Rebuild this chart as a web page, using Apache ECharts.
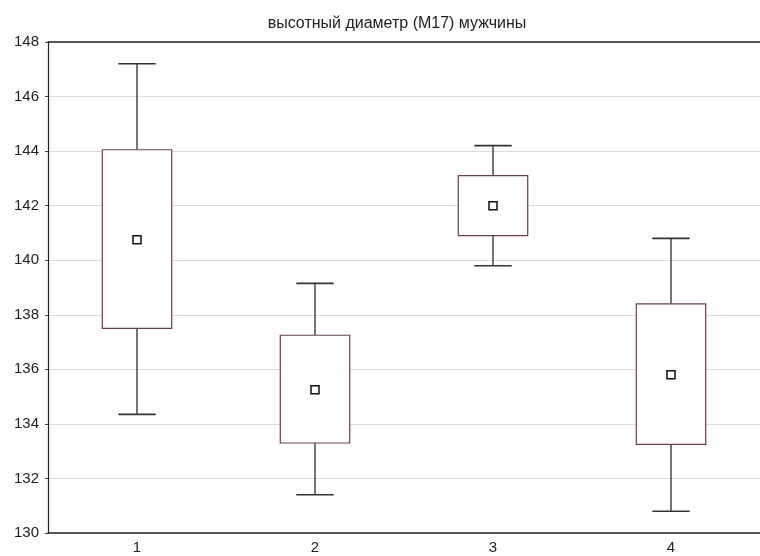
<!DOCTYPE html>
<html>
<head>
<meta charset="utf-8">
<style>
  html, body { margin: 0; padding: 0; background: #fff; }
  #chart { width: 760px; height: 556px; }
</style>
<script src="https://cdn.jsdelivr.net/npm/echarts@6/dist/echarts.min.js"></script>
</head>
<body>
<div id="chart"></div>
<script>
// Groups along the x axis
const categories = ['1', '2', '3', '4'];
// Whisker ends, box edges and centre marker for each group
const whiskerLow  = [134.35, 131.4, 139.8, 130.8];
const boxLow      = [137.5, 133.3, 140.9, 133.25];
const centre      = [140.75, 135.25, 142.0, 135.8];
const boxHigh     = [144.05, 137.25, 143.1, 138.4];
const whiskerHigh = [147.2, 139.15, 144.2, 140.8];

const rows = categories.map((c, i) => [i, whiskerLow[i], boxLow[i], centre[i], boxHigh[i], whiskerHigh[i]]);

const chart = echarts.init(document.getElementById('chart'), null, { renderer: 'canvas' });

function renderBox(params, api) {
  const idx = api.value(0);
  const pMin = api.coord([idx, api.value(1)]);
  const pQ1 = api.coord([idx, api.value(2)]);
  const pMid = api.coord([idx, api.value(3)]);
  const pQ3 = api.coord([idx, api.value(4)]);
  const pMax = api.coord([idx, api.value(5)]);
  const band = api.size([1, 0])[0];
  const boxW = band * 0.39;
  const capW = band * 0.21;
  const x = pMid[0];
  const whisker = { stroke: '#1a1a1a', lineWidth: 1.2 };
  const cap = { stroke: '#333', lineWidth: 1.6 };
  return {
    type: 'group',
    children: [
      { type: 'line', shape: { x1: x, y1: pMax[1], x2: x, y2: pQ3[1] }, style: whisker },
      { type: 'line', shape: { x1: x - capW / 2, y1: pMax[1], x2: x + capW / 2, y2: pMax[1] }, style: cap },
      { type: 'line', shape: { x1: x, y1: pQ1[1], x2: x, y2: pMin[1] }, style: whisker },
      { type: 'line', shape: { x1: x - capW / 2, y1: pMin[1], x2: x + capW / 2, y2: pMin[1] }, style: cap },
      { type: 'rect', shape: { x: x - boxW / 2, y: pQ3[1], width: boxW, height: pQ1[1] - pQ3[1] },
        style: { fill: '#fff', stroke: '#6b4040', lineWidth: 1.2 } },
      { type: 'rect', shape: { x: x - 4, y: pMid[1] - 4, width: 8, height: 8 },
        style: { fill: '#fff', stroke: '#111', lineWidth: 1.5 } }
    ]
  };
}

const font = 'Liberation Sans, Arial, sans-serif';

chart.setOption({
  animation: false,
  backgroundColor: '#fff',
  title: {
    text: 'высотный диаметр (M17) мужчины',
    left: 392, top: 11, textAlign: 'center',
    textStyle: { fontFamily: font, fontSize: 16, fontWeight: 'normal', color: '#222' }
  },
  grid: { left: 48, right: -5, top: 42, bottom: 23, containLabel: false },
  xAxis: [
    {
      type: 'category', data: categories, position: 'bottom', boundaryGap: true,
      axisLine: { lineStyle: { color: '#222', width: 1.5 } },
      axisTick: { alignWithLabel: true, inside: true, length: 4, lineStyle: { color: '#444' } },
      axisLabel: { fontFamily: font, fontSize: 15, color: '#222', margin: 7 },
      splitLine: { show: false }
    },
    {
      type: 'category', data: categories, position: 'top', boundaryGap: true,
      axisLine: { lineStyle: { color: '#222', width: 1.5 } },
      axisTick: { alignWithLabel: true, inside: true, length: 4, lineStyle: { color: '#444' } },
      axisLabel: { show: false },
      splitLine: { show: false }
    }
  ],
  yAxis: {
    type: 'value', min: 130, max: 148, interval: 2,
    axisLine: { show: true, lineStyle: { color: '#222', width: 1.2 } },
    axisTick: { show: true, length: 3, lineStyle: { color: '#444' } },
    axisLabel: { fontFamily: font, fontSize: 15, color: '#222', margin: 9 },
    splitLine: { show: true, lineStyle: { color: '#dcdcdc', width: 1 } }
  },
  series: [{
    type: 'custom',
    xAxisIndex: 0,
    renderItem: renderBox,
    encode: { x: 0, y: [1, 2, 3, 4, 5] },
    data: rows
  }]
});
</script>
</body>
</html>
